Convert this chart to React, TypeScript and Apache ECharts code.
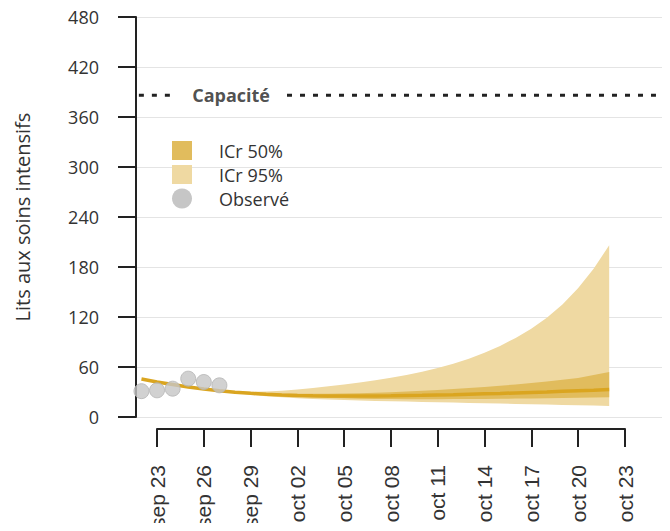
import React, { useEffect, useRef } from "react";
import * as echarts from "echarts";

// ---------- data ----------
const OBS_DATES = ["2020-09-22", "2020-09-23", "2020-09-24", "2020-09-25", "2020-09-26", "2020-09-27"];
const OBS_VALUES = [31, 32, 34, 46, 42, 38];

const MEDIAN_DATES = [
  "2020-09-22", "2020-09-23", "2020-09-24", "2020-09-25", "2020-09-26", "2020-09-27",
  "2020-09-28", "2020-09-29", "2020-09-30", "2020-10-01", "2020-10-02", "2020-10-03",
  "2020-10-04", "2020-10-05", "2020-10-06", "2020-10-07", "2020-10-08", "2020-10-09",
  "2020-10-10", "2020-10-11", "2020-10-12", "2020-10-13", "2020-10-14", "2020-10-15",
  "2020-10-16", "2020-10-17", "2020-10-18", "2020-10-19", "2020-10-20", "2020-10-21",
  "2020-10-22",
];
const MEDIAN_VALUES = [
  45.5, 42, 39, 36, 33.5, 31.5, 29.8, 28.4, 27.3, 26.5, 25.9, 25.5, 25.2, 25.1, 25.1, 25.2,
  25.4, 25.7, 26.0, 26.4, 26.8, 27.3, 27.8, 28.3, 28.9, 29.5, 30.1, 30.8, 31.5, 32.2, 33.0,
];

const BAND_DATES = [
  "2020-09-27", "2020-09-28", "2020-09-29", "2020-09-30", "2020-10-01", "2020-10-02",
  "2020-10-03", "2020-10-04", "2020-10-05", "2020-10-06", "2020-10-07", "2020-10-08",
  "2020-10-09", "2020-10-10", "2020-10-11", "2020-10-12", "2020-10-13", "2020-10-14",
  "2020-10-15", "2020-10-16", "2020-10-17", "2020-10-18", "2020-10-19", "2020-10-20",
  "2020-10-21", "2020-10-22",
];
const CI95_HIGH = [
  31.5, 30.5, 30.2, 30.5, 31.5, 33, 34.8, 36.8, 39, 41.4, 44, 47, 50.4, 54.3, 58.8, 63.9,
  69.9, 77, 85.3, 94.9, 106, 119, 135, 154.5, 178, 206,
];
const CI95_LOW = [
  31.5, 28.8, 26.8, 25, 23.6, 22.5, 21.6, 20.9, 20.3, 19.8, 19.3, 18.9, 18.5, 18.1, 17.7,
  17.3, 16.9, 16.5, 16.1, 15.7, 15.3, 14.9, 14.5, 14.1, 13.7, 13.2,
];
const CI50_HIGH = [
  31.5, 30.1, 29.1, 28.4, 28, 27.8, 27.8, 27.9, 28.2, 28.6, 29.1, 29.8, 30.6, 31.5, 32.5,
  33.6, 34.8, 36.1, 37.5, 39, 40.7, 42.5, 44.6, 46.9, 50.3, 54,
];
const CI50_LOW = [
  31.5, 29.3, 27.6, 26.2, 25.1, 24.2, 23.5, 22.9, 22.4, 22, 21.7, 21.5, 21.4, 21.4, 21.4,
  21.5, 21.6, 21.7, 21.9, 22.1, 22.3, 22.5, 22.8, 23.1, 23.4, 23.7,
];

const CAPACITY = 386;
const CAPACITY_FROM = "2020-09-21";
const CAPACITY_GAP_FROM = "2020-09-23T23:00:00Z";
const CAPACITY_GAP_TO = "2020-10-01T08:00:00Z";
const CAPACITY_TO = "2020-10-25";
const CAPACITY_LABEL_AT = "2020-09-27T18:00:00Z";
const CAPACITY_LABEL = "Capacité";

const X_START = "2020-09-21T15:36:00Z";
const X_END = "2020-10-25T21:36:00Z";
const TICK_START = "2020-09-23";
const TICK_END = "2020-10-23";
const TICK_STEP_DAYS = 3;
const TICK_LABELS = [
  "sep 23", "sep 26", "sep 29", "oct 02", "oct 05", "oct 08",
  "oct 11", "oct 14", "oct 17", "oct 20", "oct 23",
];

const Y_MIN = 0;
const Y_MAX = 480;
const Y_STEP = 60;
const Y_NAME = "Lits aux soins intensifs";
const LEGEND_LABELS = ["ICr 50%", "ICr 95%", "Observé"];

// ---------- styles ----------
const C_LINE = "#daa520";
const C_95 = "#efd9a2";
const C_50 = "#e1bc5d";
const C_OBS = "#c6c6c6";
const C_OBS_BORDER = "#b4b4b4";
const C_TEXT = "#333333";
const RALE = "'Open Sans', 'Lato', sans-serif";
const ARIAL = "'Liberation Sans', Arial, sans-serif";

const REF = Date.parse(TICK_START);
const day = (s: string) => (Date.parse(s) - REF) / 86400000;

function bandSeries(name: string, low: number[], high: number[], fill: string, z: number) {
  const data = BAND_DATES.map((d, i) => [day(d), low[i], high[i]]);
  return {
    name,
    type: "custom",
    data,
    encode: { x: 0, y: [1, 2] },
    z,
    silent: true,
    renderItem: (params: any, api: any) => {
      if (params.dataIndex !== 0) return null;
      const top = data.map((p) => api.coord([p[0], p[2]]));
      const bottom = data.map((p) => api.coord([p[0], p[1]])).reverse();
      return {
        type: "polygon",
        shape: { points: top.concat(bottom) },
        style: { fill, stroke: "none" },
      };
    },
  };
}

export default function App() {
  const ref = useRef<HTMLDivElement>(null);

  useEffect(() => {
    if (!ref.current) return;
    const chart = echarts.init(ref.current, null, { renderer: "svg" });

    const medianData = MEDIAN_DATES.map((d, i) => [day(d), MEDIAN_VALUES[i]]);
    const obsData = OBS_DATES.map((d, i) => [day(d), OBS_VALUES[i]]);

    const legendTop = 141;
    const legendGap = 24;

    chart.setOption({
      animation: false,
      grid: [
        { left: 136, right: 0, top: 17, bottom: 114 },
        { left: 157, width: 468, top: 420, height: 12 },
      ],
      xAxis: [
        {
          type: "value",
          gridIndex: 0,
          min: day(X_START),
          max: day(X_END),
          show: false,
          splitLine: { show: false },
        },
        {
          type: "value",
          gridIndex: 1,
          min: 0,
          max: day(TICK_END),
          interval: TICK_STEP_DAYS,
          position: "bottom",
          axisLine: { show: true, onZero: false, lineStyle: { color: "#222", width: 2 } },
          axisTick: { show: true, length: 18, lineStyle: { color: "#222", width: 2 } },
          splitLine: { show: false },
          axisLabel: {
            rotate: 90,
            margin: 36,
            fontSize: 21,
            fontFamily: ARIAL,
            color: C_TEXT,
            formatter: (v: number) => TICK_LABELS[Math.round(v / TICK_STEP_DAYS)] ?? "",
          },
        },
      ],
      yAxis: [
        {
          type: "value",
          gridIndex: 0,
          min: Y_MIN,
          max: Y_MAX,
          interval: Y_STEP,
          name: Y_NAME,
          nameLocation: "middle",
          nameGap: 104,
          nameTextStyle: { fontSize: 20, fontFamily: RALE, color: C_TEXT },
          axisLine: { show: true, onZero: false, lineStyle: { color: "#222", width: 2 } },
          axisTick: { show: true, length: 18, lineStyle: { color: "#222", width: 2 } },
          axisLabel: { margin: 37, fontSize: 18, fontFamily: RALE, color: C_TEXT },
          splitLine: { show: true, lineStyle: { color: "#e4e4e4", width: 1 } },
        },
        { type: "value", gridIndex: 1, show: false, min: 0, max: 1 },
      ],
      series: [
        bandSeries("ICr 95%", CI95_LOW, CI95_HIGH, C_95, 1),
        bandSeries("ICr 50%", CI50_LOW, CI50_HIGH, C_50, 2),
        {
          name: "Médiane",
          type: "line",
          data: medianData,
          symbol: "none",
          lineStyle: { color: C_LINE, width: 3.5 },
          z: 3,
        },
        {
          name: "Capacité",
          type: "line",
          data: [
            [day(CAPACITY_FROM), CAPACITY],
            [day(CAPACITY_GAP_FROM), CAPACITY],
            [day(CAPACITY_LABEL_AT), "-"],
            [day(CAPACITY_GAP_TO), CAPACITY],
            [day(CAPACITY_TO), CAPACITY],
          ],
          connectNulls: false,
          symbol: "none",
          lineStyle: { color: "#222", width: 3, type: [5, 8] },
          z: 3,
        },
        {
          name: "CapacitéLabel",
          type: "scatter",
          data: [[day(CAPACITY_LABEL_AT), CAPACITY]],
          symbolSize: 0,
          z: 5,
          label: {
            show: true,
            position: "inside",
            formatter: CAPACITY_LABEL,
            fontSize: 18,
            fontWeight: "bold",
            fontFamily: RALE,
            color: "#222",
          },
        },
        {
          name: "Observé",
          type: "scatter",
          data: obsData,
          symbolSize: 15,
          itemStyle: { color: C_OBS, borderColor: C_OBS_BORDER, borderWidth: 1 },
          z: 4,
        },
      ],
      graphic: [
        {
          type: "rect",
          shape: { x: 172, y: legendTop, width: 20, height: 19 },
          style: { fill: C_50 },
          z: 10,
        },
        {
          type: "rect",
          shape: { x: 172, y: legendTop + legendGap, width: 20, height: 19 },
          style: { fill: C_95 },
          z: 10,
        },
        {
          type: "circle",
          shape: { cx: 182, cy: legendTop + 2 * legendGap + 9.5, r: 10 },
          style: { fill: C_OBS },
          z: 10,
        },
        ...LEGEND_LABELS.map((t, i) => ({
          type: "text",
          x: 219,
          y: legendTop + 9.5 + i * legendGap,
          z: 10,
          style: {
            text: t,
            fontSize: 18,
            fontFamily: RALE,
            fill: C_TEXT,
            verticalAlign: "middle",
            align: "left",
          },
        })),
      ],
    });

    return () => chart.dispose();
  }, []);

  return <div ref={ref} style={{ width: 670, height: 531, margin: -8 }} />;
}
